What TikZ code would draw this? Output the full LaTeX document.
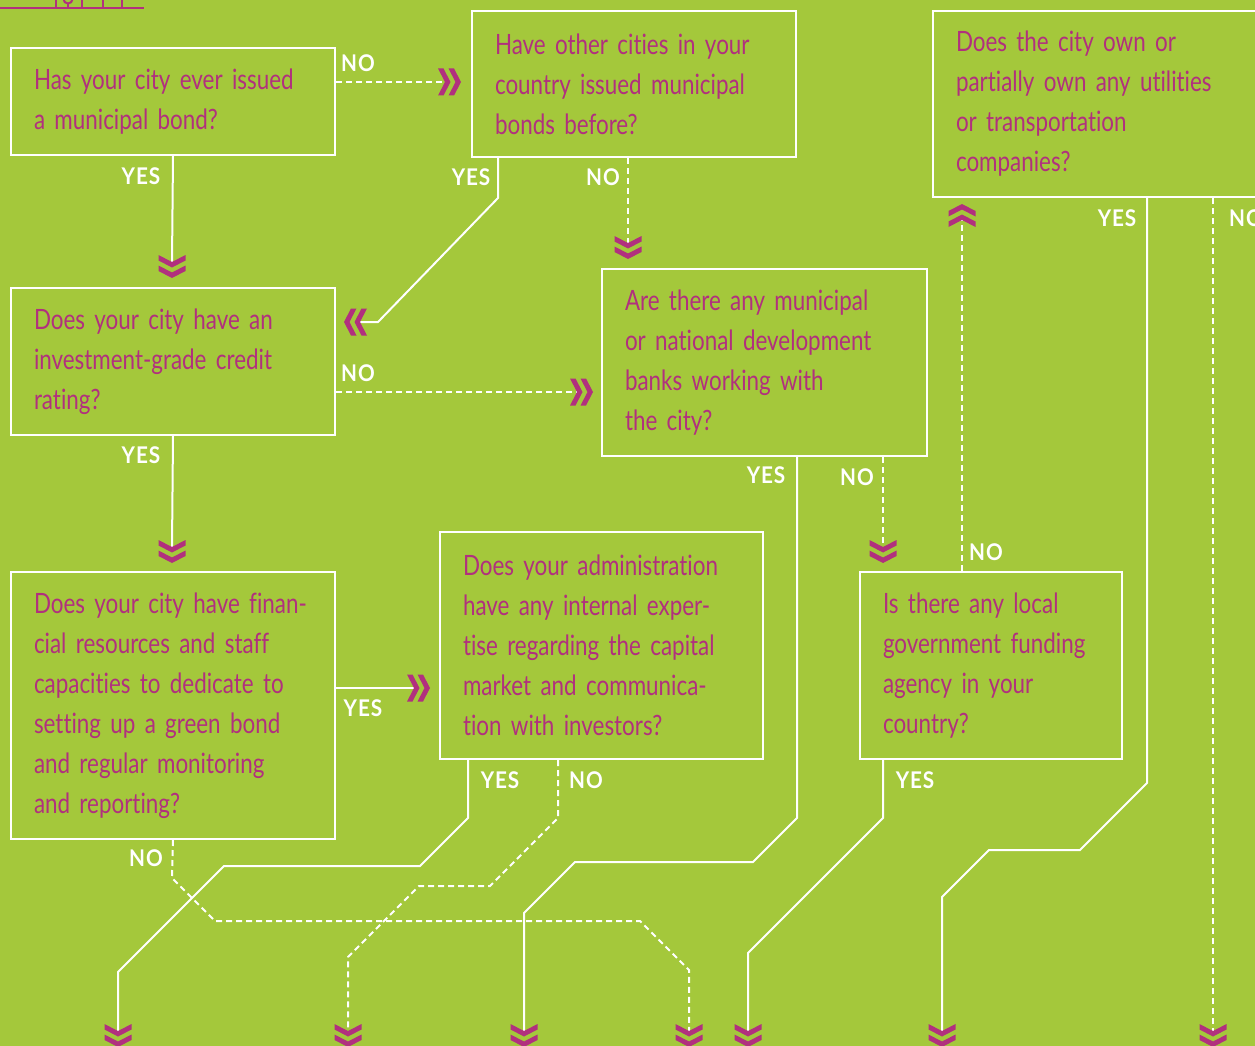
\documentclass[tikz,border=0pt]{standalone}
\usepackage{fontspec}
\setmainfont{Lato}[FakeStretch=0.8, WordSpace=0.6, Ligatures=NoCommon]
\newfontfamily\lblfont{Lato}[FakeStretch=0.9, LetterSpace=4, Ligatures=NoCommon]
\definecolor{bg}{HTML}{A4C83B}
\definecolor{mag}{HTML}{B1307E}
\tikzset{
  qbox/.style={draw=white, line width=2pt, anchor=north west, align=left,
    inner xsep=23pt, inner ysep=0pt, text=mag,
    font=\fontsize{28}{40}\selectfont},
  lbl/.style={text=white, font=\lblfont\bfseries\fontsize{23}{26}\selectfont, inner sep=0pt},
  conn/.style={draw=white, line width=2pt},
  connd/.style={draw=white, line width=2pt, dash pattern=on 6pt off 4pt},
  chevD/.pic={
    \fill[mag] (-13.5,-7) -- (0,0) -- (13.5,-7) -- (13.5,-1.5) -- (0,5.5) -- (-13.5,-1.5) -- cycle;
    \fill[mag] (-13.5,3.5) -- (0,10.5) -- (13.5,3.5) -- (13.5,9) -- (0,16) -- (-13.5,9) -- cycle;},
  chevU/.pic={
    \fill[mag] (-13.5,7) -- (0,0) -- (13.5,7) -- (13.5,1.5) -- (0,-5.5) -- (-13.5,1.5) -- cycle;
    \fill[mag] (-13.5,-3.5) -- (0,-10.5) -- (13.5,-3.5) -- (13.5,-9) -- (0,-16) -- (-13.5,-9) -- cycle;},
  chevR/.pic={
    \fill[mag] (-7,-13.5) -- (0,0) -- (-7,13.5) -- (-1.5,13.5) -- (5.5,0) -- (-1.5,-13.5) -- cycle;
    \fill[mag] (3.5,-13.5) -- (10.5,0) -- (3.5,13.5) -- (9,13.5) -- (16,0) -- (9,-13.5) -- cycle;},
  chevL/.pic={
    \fill[mag] (7,-13.5) -- (0,0) -- (7,13.5) -- (1.5,13.5) -- (-5.5,0) -- (1.5,-13.5) -- cycle;
    \fill[mag] (-3.5,-13.5) -- (-10.5,0) -- (-3.5,13.5) -- (-9,13.5) -- (-16,0) -- (-9,-13.5) -- cycle;},
}
\begin{document}
\begin{tikzpicture}[x=1pt, y=-1pt]
\useasboundingbox (0,0) rectangle (1255,1046);
\fill[bg] (0,0) rectangle (1255,1046);

% top-left decoration
\draw[mag, line width=2pt] (0,8) -- (144,8);
\draw[mag, line width=2pt] (56,0) -- (56,8) (82,0) -- (82,8) (103,0) -- (103,8) (122,0) -- (122,8) (68,3.5) -- (68,8);
\draw[mag, line width=2pt] (68,-1) circle (4.5);

% boxes
\node[qbox, text width=278pt, minimum height=107pt] (boxA) at (10,47) {Has your city ever issued\\a municipal bond?};
\node[qbox, text width=278pt, minimum height=146pt] (boxB) at (471,10) {Have other cities in your\\country issued municipal\\bonds before?};
\node[qbox, text width=284pt, minimum height=186pt] (boxC) at (932,10) {Does the city own or\\partially own any utilities\\or transportation\\companies?};
\node[qbox, text width=278pt, minimum height=147pt] (boxD) at (10,287) {Does your city have an\\investment-grade credit\\rating?};
\node[qbox, text width=279pt, minimum height=187pt] (boxE) at (601,268) {Are there any municipal\\or national development\\banks working with\\the city?};
\node[qbox, text width=278pt, minimum height=267pt] (boxF) at (10,571) {Does your city have finan-\\cial resources and staff\\capacities to dedicate to\\setting up a green bond\\and regular monitoring\\and reporting?};
\node[qbox, text width=277pt, minimum height=227pt] (boxG) at (439,531) {Does your administration\\have any internal exper-\\tise regarding the capital\\market and communica-\\tion with investors?};
\node[qbox, text width=216pt, minimum height=187pt] (boxH) at (859,571) {Is there any local\\government funding\\agency in your\\country?};

% coordinates
\coordinate (aNend) at (445,82);
\coordinate (aYend) at (172,262);
\coordinate (bY1) at (498,198);
\coordinate (bY2) at (378,322);
\coordinate (bYend) at (360,322);
\coordinate (bNend) at (628,243);
\coordinate (cY1) at (1147,783);
\coordinate (cYend) at (942,1031);
\coordinate (cNend) at (1213,1031);
\coordinate (dNend) at (577,392);
\coordinate (dYend) at (172,547);
\coordinate (eY1) at (797,818);
\coordinate (eYend) at (524,1031);
\coordinate (eNend) at (883,547);
\coordinate (hNend) at (962,220);
\coordinate (hY1) at (883,818);
\coordinate (hYend) at (748,1031);
\coordinate (fYend) at (414,688);
\coordinate (fNend) at (689,1031);
\coordinate (gY1) at (468,818);
\coordinate (gYend) at (118,1031);
\coordinate (gN1) at (558,818);
\coordinate (gNend) at (348,1031);

% connectors
\draw[connd] (boxA.east |- aNend) -- (aNend);
\draw[conn] (boxA.south) -- (aYend);
\draw[conn] (boxB.south -| bY1) -- (bY1) -- (bY2) -- (bYend);
\draw[connd] (boxB.south -| bNend) -- (bNend);
\draw[conn] (boxC.south -| cY1) -- (cY1) -- (1080,850) -- (989,850) -- (942,897) -- (cYend);
\draw[connd] (boxC.south -| cNend) -- (cNend);
\draw[connd] (boxD.east |- dNend) -- (dNend);
\draw[conn] (boxD.south) -- (dYend);
\draw[conn] (boxE.south -| eY1) -- (eY1) -- (753,862) -- (575,862) -- (524,913) -- (eYend);
\draw[connd] (boxE.south -| eNend) -- (eNend);
\draw[connd] (boxH.north -| hNend) -- (hNend);
\draw[conn] (boxH.south -| hY1) -- (hY1) -- (748,953) -- (hYend);
\draw[conn] (boxF.east |- fYend) -- (fYend);
\draw[connd] (boxF.south) -- (172,878) -- (215,921) -- (640,921) -- (689,970) -- (fNend);
\draw[conn] (boxG.south -| gY1) -- (gY1) -- (420,866) -- (224,866) -- (118,972) -- (gYend);
\draw[connd] (boxG.south -| gN1) -- (gN1) -- (490,886) -- (419,886) -- (348,957) -- (gNend);

% arrowheads
\pic at (aNend) {chevR};
\pic at (aYend) {chevD};
\pic at (bYend) {chevL};
\pic at (bNend) {chevD};
\pic at (cYend) {chevD};
\pic at (cNend) {chevD};
\pic at (dNend) {chevR};
\pic at (dYend) {chevD};
\pic at (eYend) {chevD};
\pic at (eNend) {chevD};
\pic at (hNend) {chevU};
\pic at (hYend) {chevD};
\pic at (fYend) {chevR};
\pic at (fNend) {chevD};
\pic at (gYend) {chevD};
\pic at (gNend) {chevD};

% labels
\node[lbl] (lAN) at (358,63) {NO};
\node[lbl] (lAY) at (141,176) {YES};
\node[lbl] (lBY) at (471,177) {YES};
\node[lbl] (lBN) at (603,177) {NO};
\node[lbl] (lCY) at (1117,218) {YES};
\node[lbl, anchor=west] (lCN) at (1229,218) {NO};
\node[lbl] (lDN) at (358,373) {NO};
\node[lbl] (lDY) at (141,455) {YES};
\node[lbl] (lEY) at (766,475) {YES};
\node[lbl] (lEN) at (857,477) {NO};
\node[lbl] (lHN) at (986,552) {NO};
\node[lbl] (lFY) at (363,708) {YES};
\node[lbl] (lFN) at (146,858) {NO};
\node[lbl] (lGY) at (500,780) {YES};
\node[lbl] (lGN) at (586,780) {NO};
\node[lbl] (lHY) at (915,780) {YES};
\end{tikzpicture}
\end{document}
